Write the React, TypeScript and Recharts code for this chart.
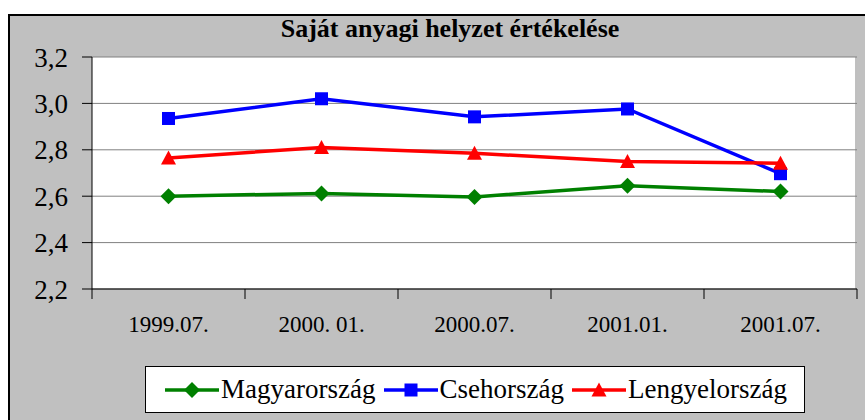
import { CartesianGrid, Legend, Line, LineChart, XAxis, YAxis } from 'recharts'

const periods = ['1999.07.', '2000. 01.', '2000.07.', '2001.01.', '2001.07.']
const magyar = [2.6, 2.612, 2.597, 2.645, 2.62]
const cseh = [2.935, 3.02, 2.942, 2.976, 2.697]
const lengyel = [2.765, 2.81, 2.785, 2.75, 2.742]
const yTicks = [2.2, 2.4, 2.6, 2.8, 3.0, 3.2]

const data = periods.map((p, i) => ({
  period: p,
  magyar: magyar[i],
  cseh: cseh[i],
  lengyel: lengyel[i],
}))

const W = 865
const H = 420
const M = { top: 57, right: 8, bottom: 91, left: 0 }
const Y_W = 92
const PLOT_W = W - M.left - M.right - Y_W
const FONT = '"Liberation Serif", Tinos, "Times New Roman", "DejaVu Serif", serif'

type DotProps = { cx?: number; cy?: number }

function diamond(color: string, r = 8) {
  return ({ cx = 0, cy = 0 }: DotProps) => (
    <polygon
      key={`d${cx}`}
      points={`${cx},${cy - r} ${cx + r},${cy} ${cx},${cy + r} ${cx - r},${cy}`}
      fill={color}
    />
  )
}

function square(color: string, s = 6.5) {
  return ({ cx = 0, cy = 0 }: DotProps) => (
    <rect key={`s${cx}`} x={cx - s} y={cy - s} width={s * 2} height={s * 2} fill={color} />
  )
}

function triangle(color: string, r = 7.5) {
  return ({ cx = 0, cy = 0 }: DotProps) => (
    <polygon
      key={`t${cx}`}
      points={`${cx},${cy - r} ${cx + r},${cy + 6.5} ${cx - r},${cy + 6.5}`}
      fill={color}
    />
  )
}

const series = [
  { key: 'magyar', name: 'Magyarország', color: '#008000', marker: diamond },
  { key: 'cseh', name: 'Csehország', color: '#0000FF', marker: square },
  { key: 'lengyel', name: 'Lengyelország', color: '#FF0000', marker: triangle },
]

function XTick({ x = 0, y = 0, payload, index = 0 }: any) {
  const half = PLOT_W / periods.length / 2
  return (
    <g>
      <line x1={x - half} x2={x - half} y1={y} y2={y + 10} stroke="#000" />
      {index === periods.length - 1 && (
        <line x1={x + half} x2={x + half} y1={y} y2={y + 10} stroke="#000" />
      )}
      <text x={x} y={y + 43} textAnchor="middle" fontSize={23} fontFamily={FONT} fill="#000">
        {payload.value}
      </text>
    </g>
  )
}

function LegendBox() {
  return (
    <div
      style={{
        display: 'flex',
        alignItems: 'center',
        justifyContent: 'center',
        gap: 6,
        height: 47,
        background: '#fff',
        border: '1px solid #000',
        boxSizing: 'border-box',
        fontFamily: FONT,
        fontSize: 27,
        color: '#000',
      }}
    >
      {series.map((s) => {
        const Mk = s.marker(s.color)
        return (
          <span key={s.key} style={{ display: 'flex', alignItems: 'center' }}>
            <svg width={58} height={20}>
              <line x1={2} x2={56} y1={10} y2={10} stroke={s.color} strokeWidth={3.5} />
              <Mk cx={29} cy={10} />
            </svg>
            <span>{s.name}</span>
          </span>
        )
      })}
    </div>
  )
}

export default function App() {
  return (
    <div
      style={{
        position: 'absolute',
        left: 0,
        top: 0,
        width: W,
        height: H,
        overflow: 'hidden',
        background: '#fff',
      }}
    >
      <div
        style={{
          position: 'absolute',
          left: 8,
          top: 14,
          width: 900,
          height: 500,
          background: '#C0C0C0',
          borderLeft: '2px solid #000',
          borderTop: '2px solid #000',
        }}
      />
      <div
        style={{
          position: 'absolute',
          left: 0,
          top: 14,
          width: 900,
          textAlign: 'center',
          fontFamily: FONT,
          fontWeight: 'bold',
          fontSize: 26,
          color: '#000',
        }}
      >
        Saját anyagi helyzet értékelése
      </div>
      <div style={{ position: 'absolute', left: 0, top: 0 }}>
        <LineChart width={W} height={H} data={data} margin={M}>
          <CartesianGrid
            stroke="#808080"
            fill="#fff"
            verticalCoordinatesGenerator={({ offset }: any) => [offset.left + offset.width - 1]}
          />
          <XAxis
            dataKey="period"
            scale="band"
            height={40}
            axisLine={{ stroke: '#000' }}
            tickLine={false}
            tickSize={0}
            tickMargin={0}
            interval={0}
            tick={<XTick />}
          />
          <YAxis
            width={Y_W}
            domain={[2.2, 3.2]}
            ticks={yTicks}
            axisLine={{ stroke: '#000' }}
            tickLine={{ stroke: '#000' }}
            tickSize={10}
            tickMargin={14}
            tick={{ fill: '#000', fontSize: 27, fontFamily: FONT }}
            tickFormatter={(v: number) => v.toFixed(1).replace('.', ',')}
          />
          <Legend
            layout="horizontal"
            verticalAlign="middle"
            align="center"
            wrapperStyle={{ left: 145, top: 366, width: 660 }}
            content={() => <LegendBox />}
          />
          {series.map((s) => (
            <Line
              key={s.key}
              dataKey={s.key}
              name={s.name}
              type="linear"
              stroke={s.color}
              strokeWidth={3.5}
              dot={s.marker(s.color)}
              activeDot={false}
              isAnimationActive={false}
            />
          ))}
        </LineChart>
      </div>
    </div>
  )
}
